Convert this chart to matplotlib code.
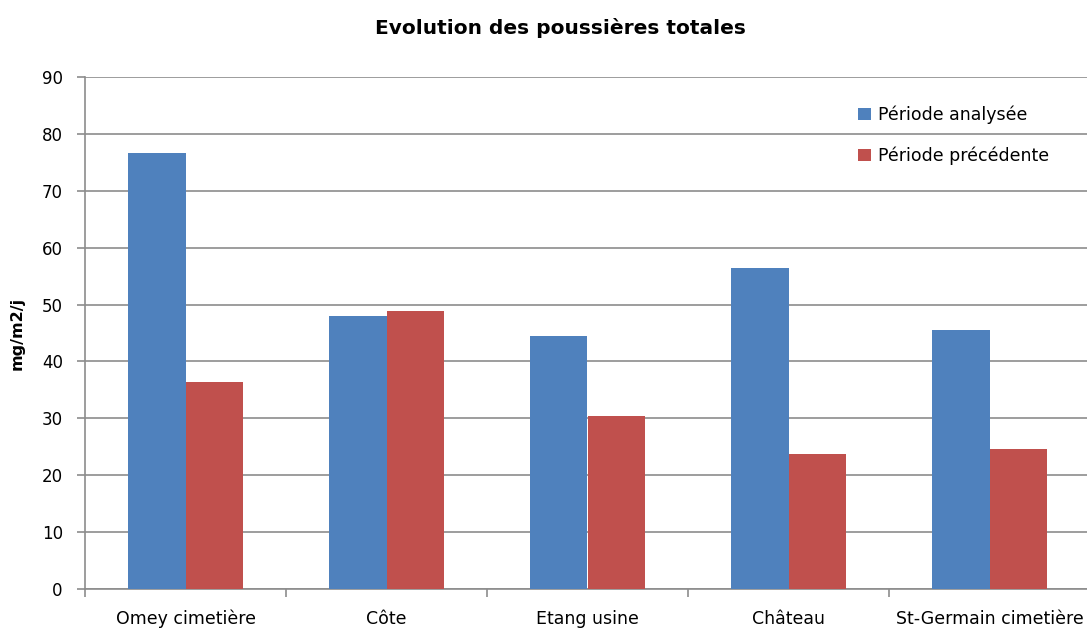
import matplotlib.pyplot as plt
import numpy as np

categories = ["Omey cimetière", "Côte", "Etang usine", "Château", "St-Germain cimetière"]
periode_analysee = [76.7, 48.0, 44.4, 56.4, 45.6]
periode_precedente = [36.4, 48.9, 30.4, 23.7, 24.6]

plt.rcParams["font.family"] = ["DejaVu Sans"]

fig = plt.figure(figsize=(10.87, 6.30), dpi=100)
ax = fig.add_axes([85 / 1087, 41 / 630, 1005 / 1087, 512 / 630])

x = np.arange(len(categories))
w = 0.285
ax.bar(x - w / 2, periode_analysee, w, color="#4F81BD", label="Période analysée", zorder=3)
ax.bar(x + w / 2, periode_precedente, w, color="#C0504D", label="Période précédente", zorder=3)

ax.set_xlim(-0.5, len(categories) - 0.5)
ax.set_ylim(0, 90)
ax.set_yticks(range(0, 91, 10))
ax.yaxis.grid(True, color="#8c8c8c", linewidth=1.2, zorder=0)

ax.set_xticks(x)
ax.set_xticklabels(categories)
ax.set_xticks(np.arange(-0.5, len(categories), 1), minor=True)
ax.tick_params(axis="x", which="major", length=0, pad=15, labelsize=12.5)
ax.tick_params(axis="x", which="minor", length=6, color="#8c8c8c", width=1.2)
ax.tick_params(axis="y", length=6, color="#8c8c8c", width=1.2, labelsize=12, pad=10)

for s in ["top", "right"]:
    ax.spines[s].set_visible(False)
for s in ["left", "bottom"]:
    ax.spines[s].set_color("#8c8c8c")
    ax.spines[s].set_linewidth(1.2)

ax.set_ylabel("mg/m2/j", fontweight="bold", fontsize=11.5, labelpad=12)

fig.text(560 / 1087, 1 - 28 / 630, "Evolution des poussières totales",
         ha="center", va="center", fontsize=14.5, fontweight="bold")

fig.legend(loc="upper left", bbox_to_anchor=(842 / 1087, 1 - 90 / 630), frameon=False,
           fontsize=12.5, handlelength=0.75, handleheight=0.75, handletextpad=0.4,
           labelspacing=1.3)

fig.savefig("out.png", dpi=100)
